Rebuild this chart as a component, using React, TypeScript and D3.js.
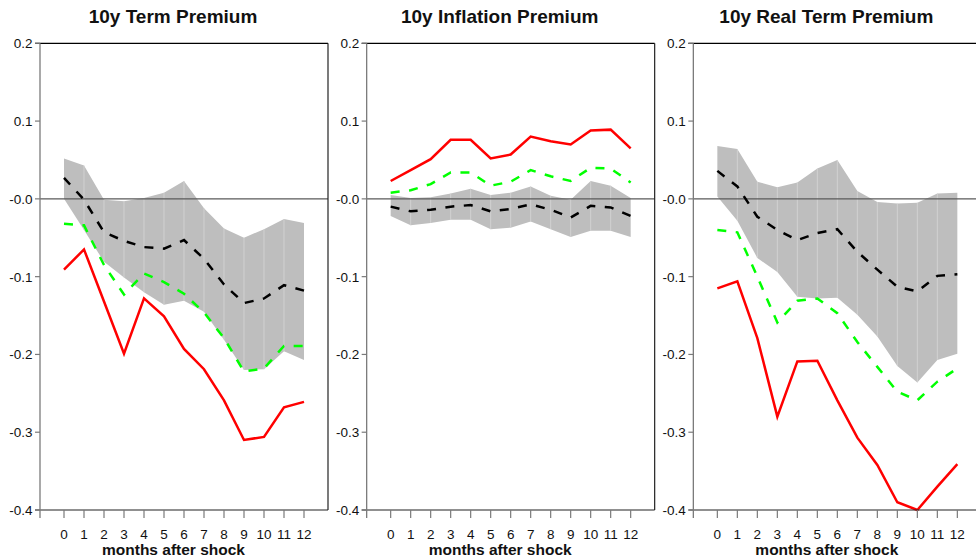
import React from "react";
import * as d3 from "d3";

// ---- data ----
const months = [0, 1, 2, 3, 4, 5, 6, 7, 8, 9, 10, 11, 12];
const yTicks = [0.2, 0.1, 0.0, -0.1, -0.2, -0.3, -0.4];
const yTickLabels = ["0.2", "0.1", "-0.0", "-0.1", "-0.2", "-0.3", "-0.4"];
const titles = ["10y Term Premium", "10y Inflation Premium", "10y Real Term Premium"];
const xLabel = "months after shock";

// 10y Term Premium
const tpRed = [-0.091, -0.065, -0.132, -0.199, -0.128, -0.151, -0.193, -0.219, -0.259, -0.310, -0.306, -0.268, -0.261];
const tpGreen = [-0.032, -0.034, -0.085, -0.123, -0.096, -0.107, -0.122, -0.146, -0.179, -0.222, -0.218, -0.189, -0.189];
const tpBlack = [0.027, -0.001, -0.043, -0.054, -0.062, -0.064, -0.053, -0.077, -0.110, -0.134, -0.128, -0.111, -0.118];
const tpUpper = [0.052, 0.043, -0.001, -0.003, 0.001, 0.008, 0.023, -0.012, -0.038, -0.050, -0.039, -0.026, -0.031];
const tpLower = [0.000, -0.040, -0.081, -0.101, -0.120, -0.136, -0.131, -0.145, -0.181, -0.220, -0.219, -0.196, -0.207];

// 10y Inflation Premium
const ipRed = [0.023, 0.037, 0.051, 0.076, 0.076, 0.052, 0.057, 0.080, 0.074, 0.070, 0.088, 0.089, 0.065];
const ipGreen = [0.008, 0.011, 0.019, 0.034, 0.034, 0.017, 0.022, 0.037, 0.029, 0.023, 0.040, 0.039, 0.021];
const ipBlack = [-0.010, -0.016, -0.014, -0.010, -0.008, -0.016, -0.013, -0.007, -0.014, -0.024, -0.009, -0.011, -0.022];
const ipUpper = [0.005, 0.001, 0.002, 0.007, 0.013, 0.005, 0.008, 0.016, 0.004, -0.001, 0.023, 0.017, 0.001];
const ipLower = [-0.022, -0.034, -0.031, -0.027, -0.027, -0.039, -0.037, -0.029, -0.039, -0.049, -0.041, -0.041, -0.049];

// 10y Real Term Premium
const rtRed = [-0.115, -0.106, -0.179, -0.280, -0.209, -0.208, -0.259, -0.307, -0.342, -0.390, -0.400, -0.370, -0.341];
const rtGreen = [-0.040, -0.043, -0.100, -0.159, -0.131, -0.128, -0.147, -0.184, -0.216, -0.248, -0.259, -0.235, -0.218];
const rtBlack = [0.036, 0.016, -0.023, -0.040, -0.053, -0.044, -0.039, -0.068, -0.091, -0.113, -0.119, -0.099, -0.097];
const rtUpper = [0.068, 0.064, 0.022, 0.015, 0.021, 0.039, 0.050, 0.010, -0.004, -0.006, -0.005, 0.007, 0.008];
const rtLower = [0.003, -0.028, -0.076, -0.094, -0.126, -0.128, -0.127, -0.149, -0.177, -0.215, -0.236, -0.207, -0.199];

const panels = [
  { title: titles[0], red: tpRed, green: tpGreen, black: tpBlack, upper: tpUpper, lower: tpLower },
  { title: titles[1], red: ipRed, green: ipGreen, black: ipBlack, upper: ipUpper, lower: ipLower },
  { title: titles[2], red: rtRed, green: rtGreen, black: rtBlack, upper: rtUpper, lower: rtLower },
];

const W = 976;
const H = 558;
const PANEL_STEP = 326.67;
const PANEL_W = 288;
const TOP = 43.3;
const BOTTOM = 510;
const FONT = "Liberation Sans, Arial, Helvetica, sans-serif";

function Panel({ p, i }: { p: any; i: number }) {
  const left = 40 + i * PANEL_STEP;
  const right = left + PANEL_W;
  const x = d3.scaleLinear().domain([-1.2, 13.2]).range([left, right]);
  const y = d3.scaleLinear().domain([-0.4, 0.2]).range([BOTTOM, TOP]);

  const line = d3
    .line<number>()
    .x((_, k) => x(months[k]))
    .y((v) => y(v));
  const area = d3
    .area<number>()
    .x((_, k) => x(months[k]))
    .y0((_, k) => y(p.lower[k]))
    .y1((v) => y(v));

  const dash = "9,9.5";
  return (
    <g>
      <path d={area(p.upper) || ""} fill="#bebebe" stroke="none" />
      {months.slice(1, -1).map((m, k) => (
        <line
          key={"s" + m}
          x1={x(m)}
          x2={x(m)}
          y1={y(p.lower[k + 1])}
          y2={y(p.upper[k + 1])}
          stroke="#d6d6d6"
          strokeWidth={0.8}
        />
      ))}
      <line x1={left} x2={right} y1={y(0)} y2={y(0)} stroke="#5a5a5a" strokeWidth={1.1} />
      <path d={line(p.red) || ""} fill="none" stroke="#ff0000" strokeWidth={2.5} />
      <path d={line(p.green) || ""} fill="none" stroke="#00ff00" strokeWidth={2.5} strokeDasharray={dash} />
      <path d={line(p.black) || ""} fill="none" stroke="#000000" strokeWidth={2.5} strokeDasharray={dash} />

      {/* frame */}
      <line x1={left - 5} x2={right} y1={TOP} y2={TOP} stroke="#000" strokeWidth={1.2} />
      <line x1={left - 5} x2={right} y1={BOTTOM} y2={BOTTOM} stroke="#222" strokeWidth={1.2} />
      <line x1={right} x2={right} y1={TOP} y2={BOTTOM} stroke="#222" strokeWidth={1.2} />
      <line x1={left} x2={left} y1={TOP} y2={BOTTOM + 8} stroke="#7a7a7a" strokeWidth={1.3} />

      {/* y ticks */}
      {yTicks.map((t, k) => (
        <g key={"y" + k}>
          <line x1={left - 5} x2={left} y1={y(t)} y2={y(t)} stroke="#7a7a7a" strokeWidth={1.2} />
          <text
            x={left - 7.5}
            y={y(t)}
            dy="0.36em"
            textAnchor="end"
            fontFamily={FONT}
            fontSize={13.5}
            fill="#111"
          >
            {yTickLabels[k]}
          </text>
        </g>
      ))}

      {/* x ticks */}
      {months.map((m) => (
        <g key={"x" + m}>
          <line x1={x(m)} x2={x(m)} y1={BOTTOM} y2={BOTTOM + 8} stroke="#7a7a7a" strokeWidth={1.2} />
          <text x={x(m)} y={538.5} textAnchor="middle" fontFamily={FONT} fontSize={13.5} fill="#111">
            {m}
          </text>
        </g>
      ))}

      <text x={left + 133.5} y={554.5} textAnchor="middle" fontFamily={FONT} fontSize={15.5} fontWeight="bold" fill="#111">
        {xLabel}
      </text>
      <text x={left + 133} y={22.5} textAnchor="middle" fontFamily={FONT} fontSize={19} fontWeight="bold" fill="#111">
        {p.title}
      </text>
    </g>
  );
}

export default function App() {
  return (
    <svg
      width={W}
      height={H}
      viewBox={`0 0 ${W} ${H}`}
      style={{ position: "absolute", left: 0, top: 0, background: "#fff" }}
    >
      <rect x={0} y={0} width={W} height={H} fill="#fff" />
      {panels.map((p, i) => (
        <Panel key={i} p={p} i={i} />
      ))}
    </svg>
  );
}
